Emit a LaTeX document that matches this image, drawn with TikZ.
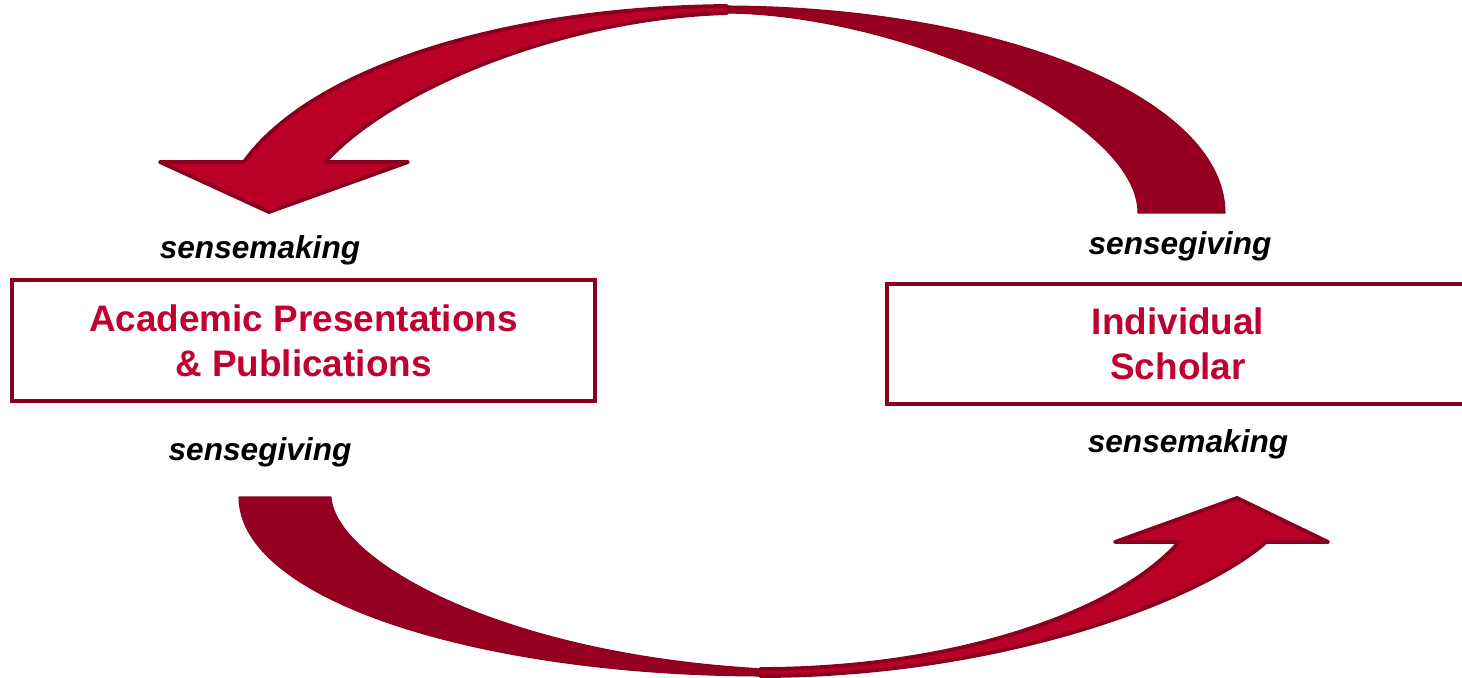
\documentclass[tikz,border=0pt]{standalone}
\usepackage{fontspec}
\setmainfont{Liberation Sans}
\definecolor{frontred}{RGB}{187,0,40}
\definecolor{backred}{RGB}{149,0,32}
\definecolor{edgered}{RGB}{139,0,30}
\definecolor{boxline}{RGB}{139,0,32}
\definecolor{boxtext}{RGB}{192,0,46}
\begin{document}
\begin{tikzpicture}[x=0.02cm,y=-0.02cm,
  frontfill/.style={fill=frontred},
  frontedge/.style={draw=edgered,line width=2.2pt,line join=round,line cap=round},
  backshape/.style={fill=backred,draw=edgered!90!backred,line width=0.6pt,line join=round},
  box/.style={draw=boxline,line width=0.08cm,minimum width=11.66cm,minimum height=2.42cm,inner sep=0pt,align=center,text=boxtext,font=\bfseries\fontsize{21}{25.5}\selectfont},
  lab/.style={anchor=base,inner sep=0pt,font=\bfseries\itshape\fontsize{18}{20}\selectfont}]
\useasboundingbox (0,0) rectangle (1462,678);

% ---- top arrow (points left) ----
\path[backshape] (722,6) .. controls (1000,6) and (1225,98) .. (1225,213)
  -- (1138,213) .. controls (1138,120) and (900,13) .. (722,13) -- cycle;
\path[frontfill] (727,13) .. controls (560,18) and (390,90) .. (325,162)
  -- (408,162) -- (269,212) -- (160,162) -- (244,162)
  .. controls (310,70) and (500,8) .. (727,6) -- cycle;
\path[frontedge] (727,13) .. controls (560,18) and (390,90) .. (325,162)
  -- (408,162) -- (269,212) -- (160,162) -- (244,162)
  .. controls (310,70) and (500,8) .. (727,6);

% ---- bottom arrow (points right) ----
\path[backshape] (239,497) -- (331,497) .. controls (335,560) and (500,655) .. (765,669)
  -- (765,676) .. controls (480,676) and (239,600) .. (239,497) -- cycle;
\path[frontfill] (760,676) .. controls (1000,676) and (1200,600) .. (1266,542)
  -- (1328,542) -- (1237,498) -- (1115,542) -- (1179,542)
  .. controls (1120,610) and (960,669) .. (760,669) -- cycle;
\path[frontedge] (760,676) .. controls (1000,676) and (1200,600) .. (1266,542)
  -- (1328,542) -- (1237,498) -- (1115,542) -- (1179,542)
  .. controls (1120,610) and (960,669) .. (760,669);

% ---- boxes ----
\node[box] (apbox) at (303.5,340.5) {Academic Presentations\\\& Publications};
\node[box] (isbox) at (1178,344) {Individual\\Scholar};

% ---- labels ----
\node[lab] (mkleft) at (260,259) {sensemaking};
\node[lab] (gvright) at (1180,255) {sensegiving};
\node[lab] (gvleft) at (260,460) {sensegiving};
\node[lab] (mkright) at (1188,452) {sensemaking};
\end{tikzpicture}
\end{document}
